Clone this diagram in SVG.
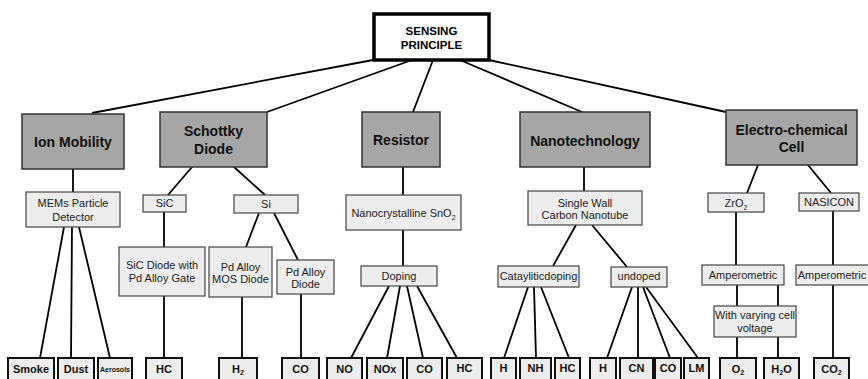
<svg xmlns="http://www.w3.org/2000/svg" width="868" height="379" viewBox="0 0 868 379">
<style>
text{font-family:"Liberation Sans",Arial,sans-serif;text-anchor:middle}
.root{fill:#fff;stroke:#000;stroke-width:3.5}
.rt{font-size:11.5px;font-weight:bold;fill:#000}
.main{fill:#a6a6a6;stroke:#333;stroke-width:1.5}
.mt{font-size:14px;font-weight:bold;fill:#111}
.sub{fill:#ededed;stroke:#444;stroke-width:1.2}
.st{font-size:11px;fill:#222}
.leaf{fill:#ededed;stroke:#111;stroke-width:2}
.lt{font-size:11px;font-weight:bold;fill:#111}
.lt.small{font-size:7px}
.c line{stroke:#000;stroke-width:1.8}
</style>
<rect width="868" height="379" fill="#fff"/>
<g class="c" id="connectors">
<line x1="373" y1="60" x2="92" y2="113"/>
<line x1="412" y1="60" x2="267" y2="112"/>
<line x1="433" y1="60" x2="413" y2="112"/>
<line x1="460" y1="60" x2="582" y2="112"/>
<line x1="489" y1="60" x2="726" y2="112"/>
<line x1="73" y1="169" x2="73" y2="192"/>
<line x1="64" y1="227" x2="40" y2="358"/>
<line x1="72" y1="227" x2="71" y2="358"/>
<line x1="79" y1="227" x2="110" y2="358"/>
<line x1="192" y1="167" x2="168" y2="195"/>
<line x1="234" y1="167" x2="265" y2="195"/>
<line x1="164" y1="212" x2="164" y2="247"/>
<line x1="164" y1="296" x2="164" y2="358"/>
<line x1="259" y1="213" x2="246" y2="247"/>
<line x1="274" y1="213" x2="298" y2="260"/>
<line x1="242" y1="297" x2="242" y2="358"/>
<line x1="301" y1="294" x2="301" y2="358"/>
<line x1="403" y1="167" x2="403" y2="195"/>
<line x1="403" y1="230" x2="403" y2="266"/>
<line x1="389" y1="286" x2="351" y2="358"/>
<line x1="400" y1="286" x2="387" y2="358"/>
<line x1="407" y1="286" x2="423" y2="358"/>
<line x1="417" y1="286" x2="457" y2="358"/>
<line x1="584" y1="167" x2="584" y2="191"/>
<line x1="576" y1="225" x2="553" y2="266"/>
<line x1="592" y1="225" x2="627" y2="267"/>
<line x1="528" y1="287" x2="504" y2="358"/>
<line x1="534" y1="287" x2="536" y2="358"/>
<line x1="541" y1="287" x2="569" y2="358"/>
<line x1="632" y1="287" x2="607" y2="358"/>
<line x1="638" y1="287" x2="638" y2="358"/>
<line x1="643" y1="287" x2="670" y2="358"/>
<line x1="646" y1="287" x2="698" y2="358"/>
<line x1="758" y1="165" x2="747" y2="193"/>
<line x1="808" y1="165" x2="831" y2="193"/>
<line x1="736" y1="212" x2="736" y2="265"/>
<line x1="833" y1="211" x2="833" y2="265"/>
<line x1="737" y1="285" x2="737" y2="306"/>
<line x1="778" y1="285" x2="778" y2="306"/>
<line x1="737" y1="337" x2="737" y2="358"/>
<line x1="778" y1="337" x2="778" y2="358"/>
<line x1="833" y1="285" x2="833" y2="358"/>
</g>
<g id="sensing-principle"><rect class="root" x="374" y="14" width="115" height="46"/><text class="rt" x="431.5" y="35">SENSING</text><text class="rt" x="431.5" y="49">PRINCIPLE</text></g>
<g id="ion-mobility"><rect class="main" x="22" y="114" width="102" height="55"/><text class="mt" x="73" y="147">Ion Mobility</text></g>
<g id="schottky-diode"><rect class="main" x="160" y="112" width="107" height="55"/><text class="mt" x="213.5" y="136">Schottky</text><text class="mt" x="213.5" y="154">Diode</text></g>
<g id="resistor"><rect class="main" x="362" y="112" width="78" height="55"/><text class="mt" x="401" y="145">Resistor</text></g>
<g id="nanotechnology"><rect class="main" x="520" y="112" width="130" height="55"/><text class="mt" x="585" y="146">Nanotechnology</text></g>
<g id="electrochemical-cell"><rect class="main" x="726" y="110" width="131" height="55"/><text class="mt" x="791.5" y="135">Electro-chemical</text><text class="mt" x="791.5" y="152">Cell</text></g>
<g id="mems"><rect class="sub" x="26" y="192" width="94" height="35"/><text class="st" x="73" y="207">MEMs Particle</text><text class="st" x="73" y="221">Detector</text></g>
<g id="sic"><rect class="sub" x="143" y="195" width="43" height="17"/><text class="st" x="164.5" y="207">SiC</text></g>
<g id="si"><rect class="sub" x="234" y="195" width="64" height="18"/><text class="st" x="266" y="208">Si</text></g>
<g id="sic-diode"><rect class="sub" x="119" y="247" width="86" height="49"/><text class="st" x="162" y="269">SiC Diode with</text><text class="st" x="162" y="282">Pd Alloy Gate</text></g>
<g id="pd-mos"><rect class="sub" x="209" y="247" width="63" height="50"/><text class="st" x="240.5" y="271">Pd Alloy</text><text class="st" x="240.5" y="283">MOS Diode</text></g>
<g id="pd-diode"><rect class="sub" x="277" y="260" width="57" height="34"/><text class="st" x="305.5" y="276">Pd Alloy</text><text class="st" x="305.5" y="288">Diode</text></g>
<g id="sno2"><rect class="sub" x="346" y="195" width="115" height="35"/><text class="st" x="403.5" y="217">Nanocrystalline SnO<tspan font-size="7" dy="3">2</tspan></text></g>
<g id="doping"><rect class="sub" x="361" y="266" width="76" height="20"/><text class="st" x="399" y="280">Doping</text></g>
<g id="swcnt"><rect class="sub" x="528" y="191" width="114" height="34"/><text class="st" x="585" y="207">Single Wall</text><text class="st" x="585" y="219">Carbon Nanotube</text></g>
<g id="catalytic-doping"><rect class="sub" x="498" y="266" width="81" height="21"/><text class="st" x="538.5" y="280">Catayliticdoping</text></g>
<g id="undoped"><rect class="sub" x="611" y="267" width="56" height="20"/><text class="st" x="639" y="280">undoped</text></g>
<g id="zro2"><rect class="sub" x="708" y="193" width="56" height="19"/><text class="st" x="736" y="207">ZrO<tspan font-size="7" dy="3">2</tspan></text></g>
<g id="nasicon"><rect class="sub" x="799" y="193" width="60" height="18"/><text class="st" x="829" y="206">NASICON</text></g>
<g id="amperometric-1"><rect class="sub" x="702" y="265" width="82" height="20"/><text class="st" x="743" y="279">Amperometric</text></g>
<g id="amperometric-2"><rect class="sub" x="796" y="265" width="76" height="20"/><text class="st" x="832" y="279">Amperometric</text></g>
<g id="varying-voltage"><rect class="sub" x="714" y="306" width="82" height="31"/><text class="st" x="755" y="319">With varying cell</text><text class="st" x="755" y="332">voltage</text></g>
<g id="smoke"><rect class="leaf" x="8" y="358" width="46" height="26"/><text class="lt" x="31" y="373">Smoke</text></g>
<g id="dust"><rect class="leaf" x="58" y="358" width="36" height="26"/><text class="lt" x="76" y="373">Dust</text></g>
<g id="aerosols"><rect class="leaf" x="98" y="358" width="34" height="26"/><text class="lt small" x="115" y="372">Aerosols</text></g>
<g id="hc-1"><rect class="leaf" x="146" y="358" width="36" height="26"/><text class="lt" x="164" y="373">HC</text></g>
<g id="h2"><rect class="leaf" x="219" y="358" width="38" height="26"/><text class="lt" x="238" y="373">H<tspan font-size="7" dy="2">2</tspan></text></g>
<g id="co-1"><rect class="leaf" x="282" y="358" width="37" height="26"/><text class="lt" x="300.5" y="373">CO</text></g>
<g id="no"><rect class="leaf" x="327" y="358" width="35" height="26"/><text class="lt" x="344.5" y="373">NO</text></g>
<g id="nox"><rect class="leaf" x="367" y="358" width="36" height="26"/><text class="lt" x="385" y="373">NOx</text></g>
<g id="co-2"><rect class="leaf" x="407" y="358" width="35" height="26"/><text class="lt" x="424.5" y="373">CO</text></g>
<g id="hc-2"><rect class="leaf" x="447" y="358" width="35" height="26"/><text class="lt" x="464.5" y="372">HC</text></g>
<g id="h-1"><rect class="leaf" x="491" y="358" width="25" height="26"/><text class="lt" x="503.5" y="372">H</text></g>
<g id="nh"><rect class="leaf" x="520" y="358" width="31" height="26"/><text class="lt" x="535.5" y="372">NH</text></g>
<g id="hc-3"><rect class="leaf" x="555" y="358" width="25" height="26"/><text class="lt" x="567.5" y="372">HC</text></g>
<g id="h-2"><rect class="leaf" x="590" y="358" width="26" height="26"/><text class="lt" x="603" y="372">H</text></g>
<g id="cn"><rect class="leaf" x="620" y="358" width="33" height="26"/><text class="lt" x="636.5" y="372">CN</text></g>
<g id="co-3"><rect class="leaf" x="655" y="358" width="26" height="26"/><text class="lt" x="668" y="372">CO</text></g>
<g id="lm"><rect class="leaf" x="684" y="358" width="25" height="26"/><text class="lt" x="696.5" y="372">LM</text></g>
<g id="o2"><rect class="leaf" x="720" y="358" width="36" height="26"/><text class="lt" x="738" y="373">O<tspan font-size="7" dy="2">2</tspan></text></g>
<g id="h2o"><rect class="leaf" x="764" y="358" width="35" height="26"/><text class="lt" x="781.5" y="373">H<tspan font-size="7" dy="2">2</tspan><tspan dy="-2">O</tspan></text></g>
<g id="co2"><rect class="leaf" x="814" y="358" width="35" height="26"/><text class="lt" x="831.5" y="373">CO<tspan font-size="7" dy="2">2</tspan></text></g>
</svg>
